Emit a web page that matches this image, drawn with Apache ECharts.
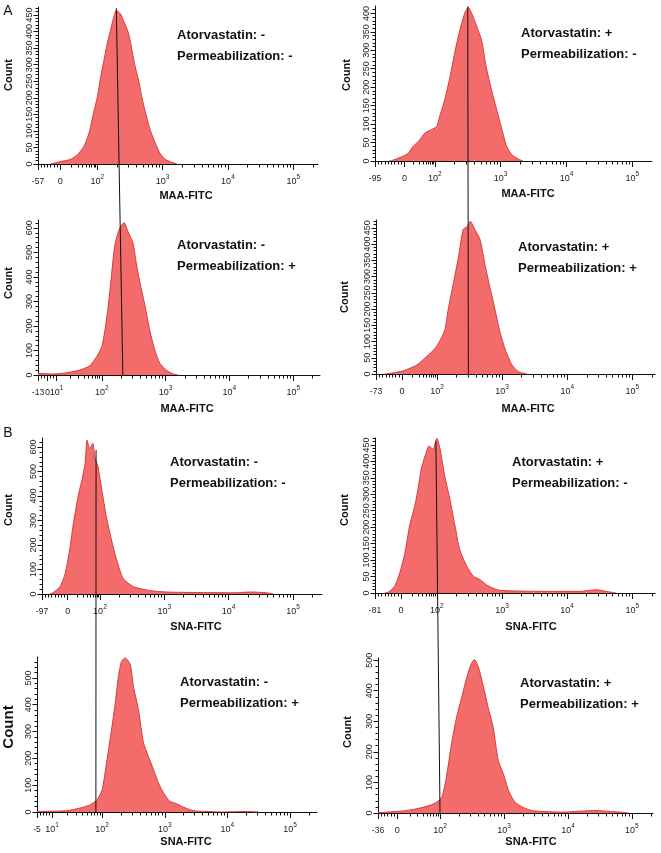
<!DOCTYPE html>
<html><head><meta charset="utf-8">
<script src="https://cdn.jsdelivr.net/npm/echarts@6/dist/echarts.min.js"></script>
<style>html,body{margin:0;padding:0;background:#fff}#c{width:661px;height:853px}</style>
</head><body><div id="c"></div>
<script>
// ---------------- DATA ----------------
// x values are in display decades (log10 of fluorescence; biexponential region below 10^2)
const panelLetters = ['A', 'B'];
const atorvastatin = ['-', '+', '-', '+', '-', '+', '-', '+'];
const permeabilization = ['-', '-', '+', '+', '-', '-', '+', '+'];
const xAxisTitles = ['MAA-FITC', 'MAA-FITC', 'MAA-FITC', 'MAA-FITC', 'SNA-FITC', 'SNA-FITC', 'SNA-FITC', 'SNA-FITC'];

const xRanges = [[1.09, 5.38], [1.09, 5.30], [1.00, 5.42], [1.06, 5.35], [1.10, 5.45], [1.05, 5.35], [0.96, 5.43], [1.03, 5.33]];
const xTickText = [
  ['-57', '0', '10^2', '10^3', '10^4', '10^5'],
  ['-95', '0', '10^2', '10^3', '10^4', '10^5'],
  ['-13', '0', '10^1', '10^2', '10^3', '10^4', '10^5'],
  ['-73', '0', '10^2', '10^3', '10^4', '10^5'],
  ['-97', '0', '10^2', '10^3', '10^4', '10^5'],
  ['-81', '0', '10^2', '10^3', '10^4', '10^5'],
  ['-5', '10^1', '10^2', '10^3', '10^4', '10^5'],
  ['-36', '0', '10^2', '10^3', '10^4', '10^5']
];
const xTickPos = [
  [1.09, 1.43, 2, 3, 4, 5],
  [1.09, 1.54, 2, 3, 4, 5],
  [1.00, 1.15, 1.29, 2, 3, 4, 5],
  [1.06, 1.46, 2, 3, 4, 5],
  [1.10, 1.50, 2, 3, 4, 5],
  [1.05, 1.45, 2, 3, 4, 5],
  [0.96, 1.20, 2, 3, 4, 5],
  [1.03, 1.33, 2, 3, 4, 5]
];
const yMax = [474, 420, 632, 474, 637, 471, 578, 507];
const yLabelTop = [450, 400, 600, 450, 600, 450, 500, 500];
const yStep = [50, 50, 100, 50, 100, 50, 100, 100];

const hist1 = [[1.28,0],[1.33,2],[1.43,7],[1.59,14],[1.69,27],[1.79,52],[1.87,92],[1.94,153],[2.00,203],[2.05,263],[2.10,313],[2.15,363],[2.20,403],[2.25,443],[2.29,464],[2.35,454],[2.40,433],[2.48,393],[2.53,343],[2.58,293],[2.63,253],[2.68,203],[2.74,153],[2.81,102],[2.89,62],[2.96,32],[3.04,14],[3.14,5],[3.22,0]];
const hist2 = [[1.30,0],[1.34,1],[1.49,11],[1.59,20],[1.67,40],[1.75,53],[1.85,76],[1.95,85],[2.03,94],[2.08,125],[2.15,166],[2.23,228],[2.30,292],[2.38,355],[2.46,404],[2.51,416],[2.55,404],[2.63,368],[2.71,327],[2.78,255],[2.86,193],[2.94,139],[3.02,85],[3.09,40],[3.17,17],[3.27,5],[3.34,0]];
const hist3 = [[1.00,7],[1.24,4],[1.45,9],[1.65,20],[1.81,37],[1.92,75],[2.00,115],[2.05,184],[2.10,279],[2.15,401],[2.20,523],[2.26,585],[2.31,612],[2.35,621],[2.41,585],[2.49,537],[2.54,456],[2.60,374],[2.68,279],[2.75,184],[2.83,102],[2.91,48],[3.02,18],[3.12,4],[3.20,0]];
const hist4 = [[1.20,0],[1.28,2],[1.48,10],[1.69,28],[1.84,54],[1.97,79],[2.05,105],[2.12,136],[2.17,198],[2.25,280],[2.33,362],[2.40,445],[2.46,453],[2.51,470],[2.58,445],[2.66,414],[2.74,332],[2.82,260],[2.89,198],[2.97,126],[3.05,74],[3.15,28],[3.25,7],[3.38,0]];
const hist5 = [[1.22,0],[1.27,5],[1.38,30],[1.46,84],[1.53,180],[1.58,275],[1.66,397],[1.72,465],[1.77,533],[1.80,628],[1.84,594],[1.89,615],[1.92,560],[1.97,519],[2.03,424],[2.10,315],[2.18,220],[2.26,139],[2.36,64],[2.52,30],[2.78,14],[3.04,8],[3.56,6],[4.08,5],[4.34,8],[4.59,5],[4.70,0]];
const hist6 = [[1.20,0],[1.25,2],[1.35,20],[1.43,61],[1.51,122],[1.58,203],[1.66,264],[1.71,315],[1.76,376],[1.82,417],[1.88,447],[1.94,437],[2.00,470],[2.05,437],[2.12,356],[2.20,285],[2.28,203],[2.35,132],[2.46,81],[2.56,51],[2.66,41],[2.76,25],[2.86,15],[2.97,8],[3.22,6],[3.68,5],[4.20,5],[4.45,10],[4.60,5],[4.75,0]];
const hist7 = [[0.96,2],[1.44,5],[1.65,15],[1.81,27],[1.92,46],[2.00,83],[2.07,183],[2.15,307],[2.21,407],[2.26,506],[2.31,562],[2.37,574],[2.45,549],[2.50,468],[2.58,381],[2.66,257],[2.74,207],[2.82,158],[2.90,108],[2.98,71],[3.08,40],[3.19,31],[3.29,19],[3.45,5],[3.67,2],[3.90,0],[4.30,2],[4.50,0]];
const hist8 = [[1.03,1],[1.11,2],[1.43,7],[1.64,14],[1.84,25],[1.95,36],[2.03,52],[2.10,118],[2.18,227],[2.26,314],[2.34,379],[2.42,445],[2.49,489],[2.54,502],[2.60,477],[2.68,412],[2.75,347],[2.83,281],[2.91,172],[2.99,129],[3.07,74],[3.17,36],[3.30,18],[3.46,7],[3.93,3],[4.40,8],[4.81,3],[4.95,0]];
const histograms = [hist1, hist2, hist3, hist4, hist5, hist6, hist7, hist8];

// gate lines: [panel, x, count] -> [panel, x, count]
const gates = [
  [[0, 2.29, 470], [2, 2.33, 0]],
  [[1, 2.50, 419], [3, 2.48, 0]],
  [[4, 1.94, 588], [6, 1.90, 0]],
  [[5, 1.985, 461], [7, 2.00, 0]]
];

// ---------------- LAYOUT / STYLE ----------------
const grids = [
  [38, 7, 280, 157], [375, 6, 277, 155],
  [38, 220, 282, 155], [376, 220, 279, 154],
  [42, 438, 280, 156], [375, 438, 280, 155],
  [37, 657, 280, 155], [378, 658, 275, 155]
];
const annotPos = [[177, 35], [521, 33], [177, 245], [518, 247], [170, 462], [512, 462], [180, 682], [520, 683]];
const countPos = [[9, 75, 11], [347, 75, 11], [9, 283, 11], [345, 297, 11], [9, 510, 11], [345, 510, 11], [9, 727, 15], [348, 732, 11]];
const xNamePos = [[186, 196], [528, 194], [187, 409], [528, 409], [196, 627], [531, 627], [186, 842], [531, 842]];
const letterPos = [[8, 11], [8, 433]];
const FONT = "'Liberation Sans', Arial, Helvetica, sans-serif";
const FILL = '#f46b6b';
const EDGE = '#d93a3a';

function minorX(i) {
  const [mn, mx] = xRanges[i];
  const pos = xTickPos[i];
  const out = [];
  for (let n = 2; n <= 5; n++) {
    for (let k = 2; k <= 9; k++) {
      const v = n + Math.log10(k);
      if (v < mx) out.push(v);
    }
  }
  const p0 = pos[1];
  const nLin = Math.max(2, Math.round((p0 - mn) / 0.05));
  for (let j = 1; j < nLin; j++) out.push(mn + (p0 - mn) * j / nLin);
  for (let a = 1; a < pos.length; a++) {
    if (pos[a] >= 2) break;
    const lo = pos[a];
    const hi = pos[a + 1];
    if (hi < 2) {
      const m = Math.max(1, Math.round((hi - lo) / 0.05));
      for (let j = 1; j < m; j++) out.push(lo + (hi - lo) * j / m);
    } else {
      for (let k = 2; k <= 9; k++) out.push(lo + (2 - lo) * Math.log10(k));
    }
  }
  return out;
}

function xFormatter(i) {
  return function (val) {
    const pos = xTickPos[i];
    for (let a = 0; a < pos.length; a++) {
      if (Math.abs(pos[a] - val) < 1e-6) {
        const t = xTickText[i][a];
        if (t.indexOf('^') >= 0) {
          const [b, e] = t.split('^');
          return '{b|' + b + '}{s|' + e + '}';
        }
        if (t.charAt(0) === '-') return '{n|' + t + '}';
        return '{b|' + t + '}';
      }
    }
    return '';
  };
}

const xAxes = [], yAxes = [], series = [], gridOpts = [];
for (let i = 0; i < 8; i++) {
  const g = grids[i];
  gridOpts.push({ left: g[0], top: g[1], width: g[2], height: g[3], containLabel: false });
  const [mn, mx] = xRanges[i];
  xAxes.push({
    type: 'value', gridIndex: i, min: mn, max: mx, position: 'bottom',
    axisLine: { show: true, onZero: false, lineStyle: { color: '#111', width: 1 } },
    axisTick: { show: true, customValues: xTickPos[i], length: 6, lineStyle: { color: '#111', width: 1 } },
    axisLabel: {
      show: true, customValues: xTickPos[i], margin: 10, formatter: xFormatter(i),
      rich: {
        b: { fontSize: 9, fontFamily: FONT, color: '#222', lineHeight: 12, verticalAlign: 'bottom' },
        s: { fontSize: 6.5, fontFamily: FONT, color: '#222', lineHeight: 12, verticalAlign: 'top' },
        n: { fontSize: 8.5, fontFamily: FONT, color: '#222', lineHeight: 12, verticalAlign: 'bottom', padding: [5, 0, 0, 0] }
      }
    },
    splitLine: { show: false }
  });
  xAxes.push({
    type: 'value', gridIndex: i, min: mn, max: mx, position: 'bottom',
    axisLine: { show: false, onZero: false },
    axisTick: { show: true, customValues: minorX(i), length: 3.5, lineStyle: { color: '#111', width: 1 } },
    axisLabel: { show: false },
    splitLine: { show: false }
  });
  const majY = [], minY = [];
  for (let v = 0; v <= yLabelTop[i]; v += yStep[i]) majY.push(v);
  const ms = yStep[i] / 5;
  for (let v = ms; v < yMax[i]; v += ms) if (v % yStep[i] !== 0) minY.push(v);
  yAxes.push({
    type: 'value', gridIndex: i, min: 0, max: yMax[i], position: 'left',
    axisLine: { show: true, onZero: false, lineStyle: { color: '#111', width: 1 } },
    axisTick: { show: true, customValues: majY, length: 4.5, lineStyle: { color: '#111', width: 1 } },
    axisLabel: { show: true, customValues: majY, rotate: 90, margin: 4, fontSize: 9, fontFamily: FONT, color: '#222' },
    splitLine: { show: false }
  });
  yAxes.push({
    type: 'value', gridIndex: i, min: 0, max: yMax[i], position: 'left',
    axisLine: { show: false, onZero: false },
    axisTick: { show: true, customValues: minY, length: 2.5, lineStyle: { color: '#111', width: 1 } },
    axisLabel: { show: false },
    splitLine: { show: false }
  });
  series.push({
    type: 'line', xAxisIndex: 2 * i, yAxisIndex: 2 * i, data: histograms[i],
    symbol: 'none', smooth: 0.2, z: 2,
    lineStyle: { color: EDGE, width: 1 },
    areaStyle: { color: FILL, opacity: 1 }
  });
}

const chart = echarts.init(document.getElementById('c'), null, { renderer: 'canvas' });
chart.setOption({
  backgroundColor: '#fff',
  animation: false,
  grid: gridOpts,
  xAxis: xAxes,
  yAxis: yAxes,
  series: series
});

const els = [];
panelLetters.forEach((L, k) => {
  els.push({ type: 'text', id: 'L' + k, x: letterPos[k][0], y: letterPos[k][1], z: 50,
    style: { text: L, font: '14px ' + FONT, fill: '#111', align: 'center', verticalAlign: 'middle' } });
});
for (let i = 0; i < 8; i++) {
  const [ax, ay] = annotPos[i];
  els.push({ type: 'text', id: 'a1_' + i, x: ax, y: ay, z: 50,
    style: { text: 'Atorvastatin: ' + atorvastatin[i], font: 'bold 13px ' + FONT, fill: '#111', align: 'left', verticalAlign: 'middle' } });
  els.push({ type: 'text', id: 'a2_' + i, x: ax, y: ay + 21, z: 50,
    style: { text: 'Permeabilization: ' + permeabilization[i], font: 'bold 13px ' + FONT, fill: '#111', align: 'left', verticalAlign: 'middle' } });
  const [cx, cy, cs] = countPos[i];
  els.push({ type: 'text', id: 'cnt' + i, x: cx, y: cy, rotation: Math.PI / 2, z: 50,
    style: { text: 'Count', font: 'bold ' + cs + 'px ' + FONT, fill: '#111', align: 'center', verticalAlign: 'middle' } });
  const [nx, ny] = xNamePos[i];
  els.push({ type: 'text', id: 'xn' + i, x: nx, y: ny, z: 50,
    style: { text: xAxisTitles[i], font: 'bold 11px ' + FONT, fill: '#111', align: 'center', verticalAlign: 'middle' } });
}
gates.forEach((g, k) => {
  const p1 = chart.convertToPixel({ seriesIndex: g[0][0] }, [g[0][1], g[0][2]]);
  const p2 = chart.convertToPixel({ seriesIndex: g[1][0] }, [g[1][1], g[1][2]]);
  els.push({ type: 'line', id: 'gate' + k, z: 60,
    shape: { x1: p1[0], y1: p1[1], x2: p2[0], y2: p2[1] + 1 },
    style: { stroke: '#111', lineWidth: 1 } });
});
chart.setOption({ graphic: { elements: els } });
</script>
</body></html>
